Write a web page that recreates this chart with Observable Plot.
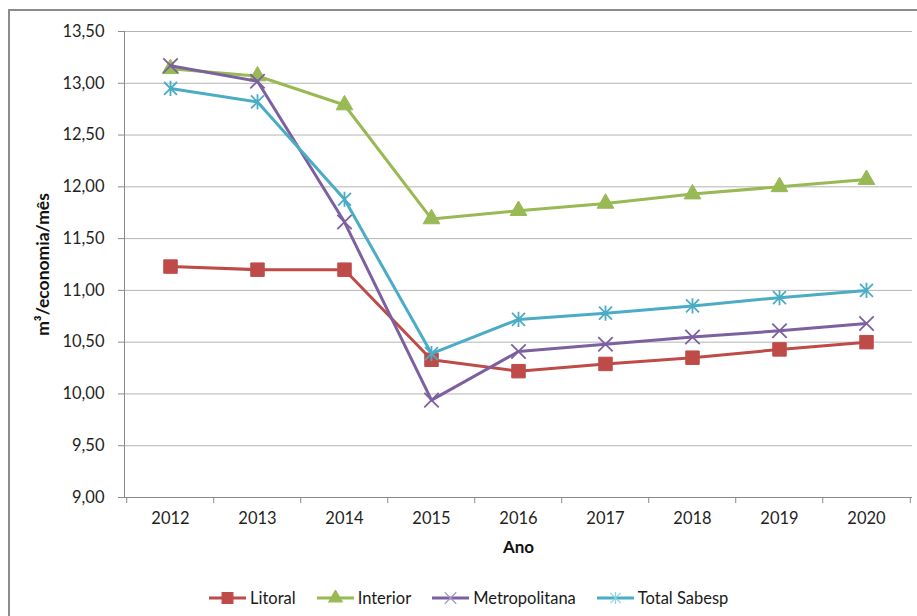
<!DOCTYPE html>
<html>
<head>
<meta charset="utf-8">
<script src="https://cdn.jsdelivr.net/npm/d3@7"></script>
<script src="https://cdn.jsdelivr.net/npm/@observablehq/plot@0.6"></script>
<style>
  html, body { margin: 0; padding: 0; background: #fff; overflow: hidden; width: 917px; height: 616px; }
  #frame { position: absolute; left: 8px; top: 9px; width: 1000px; height: 1000px; border: 2px solid #8c8c8c; box-sizing: border-box; }
  #chart { position: absolute; left: 0; top: 0; }
  #legend { position: absolute; left: 209px; top: 588px; display: flex; align-items: center; font-family: Lato, "Liberation Sans", sans-serif; font-size: 16.5px; color: #1a1a1a; }
  .item { display: flex; align-items: center; margin-right: 21px; }
  .item svg { margin-right: 4px; }
</style>
</head>
<body>
<div id="frame"></div>
<div id="chart"></div>
<div id="legend"></div>
<script>
const years = ["2012", "2013", "2014", "2015", "2016", "2017", "2018", "2019", "2020"];
const litoral = [11.23, 11.20, 11.20, 10.33, 10.22, 10.29, 10.35, 10.43, 10.50];
const interior = [13.14, 13.07, 12.79, 11.69, 11.77, 11.84, 11.93, 12.00, 12.07];
const metropolitana = [13.17, 13.02, 11.66, 9.94, 10.41, 10.48, 10.55, 10.61, 10.68];
const totalSabesp = [12.95, 12.82, 11.88, 10.39, 10.72, 10.78, 10.85, 10.93, 11.00];
const seriesNames = ["Litoral", "Interior", "Metropolitana", "Total Sabesp"];
const yTicks = [9, 9.5, 10, 10.5, 11, 11.5, 12, 12.5, 13, 13.5];
const yTitle = "m³/economia/mês";
const xTitle = "Ano";

const colors = ["#BE4B48", "#98B954", "#7D60A0", "#4AACC5"];
const values = [litoral, interior, metropolitana, totalSabesp];

const asterisk = {
  draw(context, size) {
    const r = Math.sqrt(size / Math.PI);
    const k = r * 0.85;
    context.moveTo(0, -r); context.lineTo(0, r);
    context.moveTo(-k, -k); context.lineTo(k, k);
    context.moveTo(-k, k); context.lineTo(k, -k);
  }
};
const symbols = ["square", "triangle", "times", asterisk];
const radii = [7.6, 6.2, 6.6, 7.6];
const filled = [true, true, false, false];

const W = 917, H = 575, mL = 124, mR = 5, mT = 31, mB = 78;
const step = (W - mL - mR) / years.length;
const plotH = H - mT - mB;
const fmt = d => d.toFixed(2).replace(".", ",");

const marks = [
  Plot.ruleY(yTicks.slice(1), {y: d => d, stroke: "#b4b4b4", strokeWidth: 1}),
  Plot.ruleY([yTicks[0]], {y: d => d, stroke: "#8a8a8a", strokeWidth: 1}),
  Plot.frame({anchor: "left", stroke: "#8a8a8a", strokeWidth: 1}),
  Plot.ruleX(years, {x: d => d, dx: -step / 2, insetTop: plotH, insetBottom: -6, stroke: "#8a8a8a"}),
  Plot.ruleX([years[years.length - 1]], {x: d => d, dx: step / 2, insetTop: plotH, insetBottom: -6, stroke: "#8a8a8a"}),
  Plot.axisY({ticks: yTicks, tickSize: 6, tickPadding: 14, tickFormat: fmt, stroke: "#8a8a8a", fill: "#1f1f1f", fontSize: 16.5, label: null}),
  Plot.axisX({tickSize: 0, tickPadding: 15, fill: "#1f1f1f", fontSize: 16.5, label: null}),
  Plot.text([xTitle], {frameAnchor: "bottom", textAnchor: "middle", dy: 50, text: d => d, fontWeight: "bold", fontSize: 17, fill: "#111", lineAnchor: "middle"}),
  Plot.text([yTitle], {frameAnchor: "left", textAnchor: "middle", dx: -81, rotate: -90, text: d => d, fontWeight: "bold", fontSize: 17.5, fill: "#111", lineAnchor: "middle"})
];

values.forEach((vals, s) => {
  const data = years.map((yr, i) => ({year: yr, value: vals[i]}));
  marks.push(Plot.line(data, {x: "year", y: "value", stroke: colors[s], strokeWidth: 3, strokeLinejoin: "round"}));
  marks.push(Plot.dot(data, {
    x: "year", y: "value", symbol: symbols[s], r: radii[s],
    fill: filled[s] ? colors[s] : "none",
    stroke: colors[s], strokeWidth: filled[s] ? 1 : 1.8
  }));
});

const chart = Plot.plot({
  width: W, height: H,
  marginLeft: mL, marginRight: mR, marginTop: mT, marginBottom: mB,
  style: {fontFamily: "Lato, 'Liberation Sans', sans-serif", background: "transparent", color: "#1f1f1f"},
  x: {type: "point", domain: years, padding: 0.5, axis: null},
  y: {domain: [9, 13.5], axis: null},
  marks
});
document.getElementById("chart").appendChild(chart);

// legend
const legend = document.getElementById("legend");
seriesNames.forEach((name, s) => {
  const item = document.createElement("div");
  item.className = "item";
  const ns = "http://www.w3.org/2000/svg";
  const svg = document.createElementNS(ns, "svg");
  svg.setAttribute("width", 37); svg.setAttribute("height", 16);
  const line = document.createElementNS(ns, "line");
  line.setAttribute("x1", 0); line.setAttribute("x2", 37);
  line.setAttribute("y1", 8); line.setAttribute("y2", 8);
  line.setAttribute("stroke", colors[s]); line.setAttribute("stroke-width", 3);
  svg.appendChild(line);
  const path = document.createElementNS(ns, "path");
  const sym = typeof symbols[s] === "string"
    ? {square: d3.symbolSquare, triangle: d3.symbolTriangle, times: d3.symbolTimes}[symbols[s]]
    : symbols[s];
  const r = radii[s] * 0.8;
  path.setAttribute("d", d3.symbol(sym, r * r * Math.PI)());
  path.setAttribute("transform", "translate(18.5,8)");
  path.setAttribute("fill", filled[s] ? colors[s] : "none");
  path.setAttribute("stroke", filled[s] ? colors[s] : (s === 3 ? "#8fd0e3" : "#a895c2"));
  path.setAttribute("stroke-width", 1.2);
  svg.appendChild(path);
  item.appendChild(svg);
  const label = document.createElement("span");
  label.textContent = name;
  item.appendChild(label);
  legend.appendChild(item);
});
</script>
</body>
</html>
